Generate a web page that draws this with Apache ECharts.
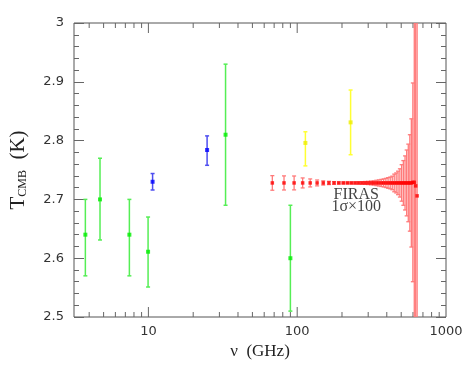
<!DOCTYPE html>
<html>
<head>
<meta charset="utf-8">
<title>CMB temperature</title>
<script src="https://cdn.jsdelivr.net/npm/echarts@6/dist/echarts.min.js"></script>
<style>
  html, body { margin: 0; padding: 0; background: #fff; }
  #chart { width: 471px; height: 368px; }
</style>
</head>
<body>
<div id="chart"></div>
<script>
// ground based / balloon (green)
var greenNu = [3.77, 4.73, 7.45, 9.95, 33.0, 90.0]
var greenT = [2.640, 2.700, 2.640, 2.611, 2.810, 2.600]
var greenLow = [2.570, 2.631, 2.570, 2.551, 2.690, 2.510]
var greenHigh = [2.700, 2.770, 2.700, 2.670, 2.930, 2.690]

// blue
var blueNu = [10.67, 24.8]
var blueT = [2.730, 2.784]
var blueLow = [2.716, 2.758]
var blueHigh = [2.744, 2.808]

// yellow
var yellowNu = [113.5, 228.5]
var yellowT = [2.796, 2.831]
var yellowLow = [2.757, 2.776]
var yellowHigh = [2.815, 2.886]

// FIRAS spectrum (GHz), temperature, 1 sigma x 100
var firasNu = [68.05, 81.54, 95.33, 108.82, 122.31, 136.10, 149.60, 163.39, 176.88, 190.37,
  204.16, 217.65, 231.14, 244.93, 258.42, 272.21, 285.70, 299.19, 312.98, 326.47,
  339.96, 353.75, 367.24, 381.03, 394.52, 408.02, 421.80, 435.30, 448.79, 462.58,
  476.07, 489.86, 503.35, 516.84, 530.63, 544.12, 557.91, 571.40, 584.89, 598.68,
  612.17, 625.66, 639.45]
var firasT = [2.728, 2.728, 2.728, 2.728, 2.728, 2.728, 2.728, 2.728, 2.728, 2.728,
  2.728, 2.728, 2.728, 2.728, 2.728, 2.728, 2.728, 2.728, 2.728, 2.728,
  2.728, 2.728, 2.728, 2.728, 2.728, 2.728, 2.728, 2.728, 2.728, 2.728,
  2.728, 2.728, 2.728, 2.728, 2.728, 2.728, 2.728, 2.728, 2.728, 2.729,
  2.729, 2.723, 2.706]
var firasErr100 = [0.0124, 0.0120, 0.0118, 0.0085, 0.0068, 0.0050, 0.0036, 0.0028, 0.0022, 0.0018,
  0.0016, 0.0015, 0.0016, 0.0017, 0.0019, 0.0021, 0.0024, 0.0027, 0.0032, 0.0037,
  0.0045, 0.0052, 0.0060, 0.0068, 0.0078, 0.0090, 0.0100, 0.0115, 0.0150, 0.0170,
  0.0200, 0.0240, 0.0310, 0.0380, 0.0460, 0.0560, 0.0660, 0.0820, 0.1090, 0.1690,
  0.40, 0.80, 1.60]

// ticks
var xMinorTicks = [4, 5, 6, 7, 8, 9, 20, 30, 40, 50, 60, 70, 80, 90, 200, 300, 400, 500, 600, 700, 800, 900]
var xMajorTicks = [10, 100]
var yTicks = [2.5, 2.6, 2.7, 2.8, 2.9, 3]

var chart = echarts.init(document.getElementById('chart'))

function zip3(a, b, c) {
  return a.map(function (v, i) { return [v, b[i], c[i]] })
}

function points(nu, t) {
  return nu.map(function (v, i) { return [v, t[i]] })
}

// vertical error bar with caps
function errorBar(color, cap, width) {
  return function (params, api) {
    var x = api.value(0)
    var lo = api.coord([x, api.value(1)])
    var hi = api.coord([x, api.value(2)])
    var style = { stroke: color, lineWidth: width }
    return {
      type: 'group',
      children: [
        { type: 'line', shape: { x1: lo[0], y1: lo[1], x2: hi[0], y2: hi[1] }, style: style },
        { type: 'line', shape: { x1: lo[0] - cap, y1: lo[1], x2: lo[0] + cap, y2: lo[1] }, style: style },
        { type: 'line', shape: { x1: hi[0] - cap, y1: hi[1], x2: hi[0] + cap, y2: hi[1] }, style: style }
      ]
    }
  }
}

// log axis ticks drawn inward on bottom and top edges
function xTick(len) {
  return function (params, api) {
    var b = api.coord([api.value(0), yTicks[0]])
    var t = api.coord([api.value(0), yTicks[yTicks.length - 1]])
    var style = { stroke: '#666', lineWidth: 1 }
    return {
      type: 'group',
      children: [
        { type: 'line', shape: { x1: b[0], y1: b[1], x2: b[0], y2: b[1] - len }, style: style },
        { type: 'line', shape: { x1: t[0], y1: t[1], x2: t[0], y2: t[1] + len }, style: style }
      ]
    }
  }
}

var firasLow = firasT.map(function (v, i) { return v - firasErr100[i] })
var firasHigh = firasT.map(function (v, i) { return v + firasErr100[i] })

var yAxisBase = {
  type: 'value',
  min: yTicks[0],
  max: yTicks[yTicks.length - 1],
  interval: 0.1,
  splitLine: { show: false },
  axisLine: { show: false },
  axisTick: { show: true, inside: true, length: 10, lineStyle: { color: '#666' } },
  minorTick: { show: true, splitNumber: 5, length: 5, lineStyle: { color: '#666' } },
  minorSplitLine: { show: false }
}

chart.setOption({
  animation: false,
  grid: {
    left: 66,
    top: 23,
    right: 25,
    bottom: 51,
    show: true,
    borderColor: '#555',
    borderWidth: 1,
    backgroundColor: 'transparent'
  },
  xAxis: {
    type: 'log',
    logBase: 10,
    min: 3.1623,
    max: 1000,
    name: 'ν  (GHz)',
    nameLocation: 'middle',
    nameGap: 26,
    nameTextStyle: { fontFamily: 'Liberation Serif', fontSize: 17, color: '#222' },
    splitLine: { show: false },
    axisLine: { show: false },
    axisTick: { show: false },
    axisLabel: {
      margin: 8,
      fontFamily: 'DejaVu Sans',
      fontSize: 13,
      color: '#333',
      formatter: function (v) {
        var l = Math.log10(v)
        if (Math.abs(l - Math.round(l)) < 1e-6 && Math.round(l) >= 1) {
          return String(Math.round(v))
        }
        return ''
      }
    }
  },
  yAxis: [
    Object.assign({}, yAxisBase, {
      position: 'left',
      name: 'T{sub|CMB}  (K)',
      nameLocation: 'middle',
      nameGap: 45,
      nameTextStyle: {
        fontFamily: 'Liberation Serif',
        fontSize: 21,
        color: '#222',
        rich: {
          sub: { fontFamily: 'Liberation Serif', fontSize: 12, color: '#222', verticalAlign: 'bottom', padding: [8, 0, 0, 0] }
        }
      },
      axisLabel: { margin: 10, fontFamily: 'DejaVu Sans', fontSize: 13, color: '#333' }
    }),
    Object.assign({}, yAxisBase, {
      position: 'right',
      axisLabel: { show: false }
    })
  ],
  series: [
    {
      type: 'custom',
      renderItem: xTick(5),
      data: xMinorTicks.map(function (v) { return [v, yTicks[0]] }),
      silent: true,
      z: 1
    },
    {
      type: 'custom',
      renderItem: xTick(10),
      data: xMajorTicks.map(function (v) { return [v, yTicks[0]] }),
      silent: true,
      z: 1
    },
    {
      type: 'custom',
      renderItem: errorBar('#ff7a7a', 2, 1.3),
      data: zip3(firasNu, firasLow, firasHigh),
      encode: { x: 0, y: [1, 2] },
      clip: true,
      z: 2
    },
    {
      type: 'custom',
      renderItem: errorBar('#55ee55', 2, 1.5),
      data: zip3(greenNu, greenLow, greenHigh),
      encode: { x: 0, y: [1, 2] },
      clip: true,
      z: 2
    },
    {
      type: 'custom',
      renderItem: errorBar('#4e4ef0', 2, 1.5),
      data: zip3(blueNu, blueLow, blueHigh),
      encode: { x: 0, y: [1, 2] },
      clip: true,
      z: 2
    },
    {
      type: 'custom',
      renderItem: errorBar('#ffff33', 2, 1.5),
      data: zip3(yellowNu, yellowLow, yellowHigh),
      encode: { x: 0, y: [1, 2] },
      clip: true,
      z: 2
    },
    {
      type: 'scatter',
      symbol: 'rect',
      symbolSize: 4,
      itemStyle: { color: '#00ee00' },
      data: points(greenNu, greenT),
      z: 3
    },
    {
      type: 'scatter',
      symbol: 'rect',
      symbolSize: 4,
      itemStyle: { color: '#0000ff' },
      data: points(blueNu, blueT),
      z: 3
    },
    {
      type: 'scatter',
      symbol: 'rect',
      symbolSize: 4,
      itemStyle: { color: '#eeee00' },
      data: points(yellowNu, yellowT),
      z: 3
    },
    {
      type: 'scatter',
      symbol: 'rect',
      symbolSize: 3.5,
      itemStyle: { color: '#ff0000' },
      data: points(firasNu, firasT),
      z: 3
    },
    {
      // FIRAS annotation
      type: 'scatter',
      symbolSize: 0,
      silent: true,
      data: [[249.5, 2.698]],
      label: {
        show: true,
        position: 'inside',
        formatter: '{a|FIRAS}\n{a|1σ×100}',
        rich: {
          a: { fontFamily: 'Liberation Serif', fontSize: 16, lineHeight: 12, color: '#111', align: 'center' }
        }
      },
      z: 4
    }
  ]
})
</script>
</body>
</html>
